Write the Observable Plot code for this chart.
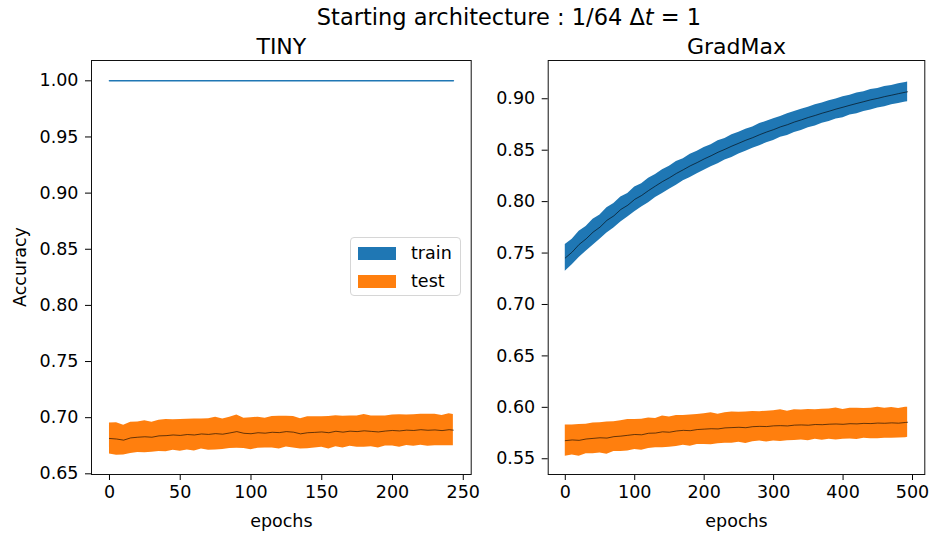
<!DOCTYPE html>
<html><head><meta charset="utf-8">
<script src="https://cdn.jsdelivr.net/npm/d3@7"></script>
<script src="https://cdn.jsdelivr.net/npm/@observablehq/plot@0.6"></script>
<style>
body{margin:0;background:#fff;}
#fig{position:relative;width:931px;height:534px;font-family:"DejaVu Sans",sans-serif;color:#000;overflow:hidden;}
#fig svg{position:absolute;top:0;}
.abs{position:absolute;white-space:nowrap;}
#suptitle{left:0;width:1018px;text-align:center;top:4px;font-size:22.5px;}
#ylab{left:20px;top:267px;font-size:17.5px;transform:translate(-50%,-50%) rotate(-90deg);}
#legend{left:350px;top:237px;width:111px;height:59px;border:1px solid #d6d6d6;border-radius:4px;background:rgba(255,255,255,0.8);box-sizing:border-box;}
.sw{position:absolute;left:7px;width:38px;height:13px;}
.lt{position:absolute;left:60px;font-size:17.5px;line-height:20px;}
</style></head><body>
<div id="fig"></div>
<script>
// ---- data ----
const panelTitles = ["TINY", "GradMax"];
const seriesNames = ["train", "test"];
const seriesColors = ["#1f77b4", "#ff7f0e"];

// TINY
const tinyTrainEpochs = [0, 243];
const tinyTrainMean = [1.0, 1.0];
const tinyTestEpochs = [0,5,10,15,20,25,30,35,40,45,50,55,60,65,70,75,80,85,90,95,100,105,110,115,120,125,130,135,140,145,150,155,160,165,170,175,180,185,190,195,200,205,210,215,220,225,230,235,240,243];
const tinyTestMean = [0.6815,0.6810,0.6800,0.6820,0.6826,0.6830,0.6826,0.6838,0.6840,0.6846,0.6842,0.6850,0.6846,0.6855,0.6851,0.6858,0.6853,0.6864,0.6876,0.6861,0.6857,0.6866,0.6862,0.6870,0.6867,0.6876,0.6871,0.6856,0.6866,0.6869,0.6873,0.6866,0.6879,0.6871,0.6880,0.6876,0.6883,0.6878,0.6873,0.6881,0.6886,0.6882,0.6889,0.6886,0.6893,0.6888,0.6891,0.6885,0.6893,0.6889];
const tinyTestSpread = [0.0138,0.0145,0.0132,0.0140,0.0136,0.0142,0.0133,0.0139,0.0144,0.0135,0.0141,0.0137,0.0143,0.0134,0.0140,0.0145,0.0136,0.0139,0.0148,0.0135,0.0142,0.0138,0.0133,0.0141,0.0146,0.0137,0.0140,0.0134,0.0143,0.0139,0.0136,0.0144,0.0138,0.0141,0.0135,0.0140,0.0146,0.0137,0.0142,0.0134,0.0139,0.0145,0.0136,0.0141,0.0138,0.0143,0.0140,0.0135,0.0142,0.0139];

// GradMax
const gmEpochs = [0,10,20,30,40,50,60,70,80,90,100,110,120,130,140,150,160,170,180,190,200,210,220,230,240,250,260,270,280,290,300,310,320,330,340,350,360,370,380,390,400,410,420,430,440,450,460,470,480,490,493];
const gmTrainMean = [0.7452,0.7510,0.7584,0.7638,0.7703,0.7752,0.7818,0.7862,0.7924,0.7965,0.8022,0.8060,0.8108,0.8152,0.8195,0.8232,0.8274,0.8310,0.8348,0.8380,0.8415,0.8446,0.8480,0.8509,0.8540,0.8568,0.8597,0.8622,0.8651,0.8677,0.8700,0.8727,0.8748,0.8774,0.8795,0.8818,0.8838,0.8860,0.8879,0.8900,0.8918,0.8937,0.8955,0.8972,0.8990,0.9004,0.9021,0.9035,0.9050,0.9064,0.9068];
const gmTrainSpread = [0.0130,0.0124,0.0127,0.0120,0.0126,0.0118,0.0123,0.0119,0.0122,0.0114,0.0120,0.0113,0.0118,0.0112,0.0115,0.0111,0.0115,0.0108,0.0113,0.0109,0.0111,0.0106,0.0112,0.0105,0.0110,0.0106,0.0107,0.0103,0.0108,0.0104,0.0105,0.0101,0.0106,0.0102,0.0103,0.0100,0.0104,0.0099,0.0101,0.0097,0.0102,0.0096,0.0100,0.0097,0.0099,0.0095,0.0098,0.0094,0.0097,0.0095,0.0096];
const gmTestMean = [0.5676,0.5683,0.5679,0.5692,0.5698,0.5704,0.5701,0.5715,0.5720,0.5728,0.5736,0.5733,0.5748,0.5750,0.5762,0.5758,0.5770,0.5776,0.5773,0.5784,0.5788,0.5792,0.5790,0.5800,0.5803,0.5806,0.5802,0.5812,0.5815,0.5813,0.5820,0.5822,0.5819,0.5827,0.5829,0.5826,0.5833,0.5831,0.5836,0.5838,0.5835,0.5841,0.5839,0.5844,0.5842,0.5847,0.5845,0.5849,0.5846,0.5853,0.5855];
const gmTestSpread = [0.0152,0.0146,0.0155,0.0143,0.0150,0.0147,0.0156,0.0144,0.0149,0.0153,0.0145,0.0151,0.0148,0.0142,0.0154,0.0147,0.0150,0.0144,0.0152,0.0146,0.0149,0.0155,0.0143,0.0148,0.0151,0.0145,0.0153,0.0147,0.0142,0.0150,0.0148,0.0154,0.0144,0.0149,0.0146,0.0152,0.0143,0.0150,0.0147,0.0155,0.0145,0.0149,0.0151,0.0144,0.0148,0.0153,0.0146,0.0150,0.0143,0.0149,0.0147];

const tinyXTicks = [0,50,100,150,200,250];
const tinyYTicks = [0.65,0.70,0.75,0.80,0.85,0.90,0.95,1.00];
const gmXTicks = [0,100,200,300,400,500];
const gmYTicks = [0.55,0.60,0.65,0.70,0.75,0.80,0.85,0.90];

// ---- build ----
const rows = (ep, m, s) => ep.map((e, i) => ({epoch: e, mean: m[i], lo: m[i] - (s ? s[i] : 0), hi: m[i] + (s ? s[i] : 0)}));
const fig = document.getElementById("fig");
const FS = "17.5px";

function panel(o) {
  const marks = [];
  for (const b of o.bands) marks.push(Plot.areaY(b.data, {x: "epoch", y1: "lo", y2: "hi", fill: b.color, curve: "linear"}));
  for (const b of o.bands) marks.push(Plot.line(b.data, {x: "epoch", y: "mean", stroke: "black", strokeWidth: 0.6}));
  for (const l of o.lines) marks.push(Plot.line(l.data, {x: "epoch", y: "mean", stroke: l.color, strokeWidth: 1.6}));
  marks.push(Plot.frame({stroke: "#111", strokeWidth: 1}));
  marks.push(Plot.text([o.title], {frameAnchor: "top", lineAnchor: "bottom", dy: -7, fontSize: 22, text: d => d}));
  marks.push(Plot.text(["epochs"], {frameAnchor: "bottom", lineAnchor: "bottom", dy: 52, fontSize: 17.5, text: d => d}));
  const svg = Plot.plot({
    width: o.width, height: 534,
    marginLeft: o.ml, marginRight: o.mr, marginTop: 60, marginBottom: 60,
    x: {domain: o.xDomain, ticks: o.xTicks, tickSize: 6, tickPadding: 5, tickFormat: d => String(d), label: null},
    y: {domain: o.yDomain, ticks: o.yTicks, tickSize: 6, tickPadding: 7, tickFormat: d3.format(".2f"), label: null},
    style: {fontFamily: "DejaVu Sans", fontSize: FS, color: "#000", background: "transparent", overflow: "visible"},
    marks
  });
  svg.style.left = o.left + "px";
  fig.appendChild(svg);
}

panel({
  left: 0, width: 480, ml: 91, mr: 9.3,
  xDomain: [-12.7, 255.6], yDomain: [0.6494, 1.0181],
  xTicks: tinyXTicks, yTicks: tinyYTicks, title: panelTitles[0],
  bands: [{data: rows(tinyTestEpochs, tinyTestMean, tinyTestSpread), color: seriesColors[1]}],
  lines: [{data: rows(tinyTrainEpochs, tinyTrainMean, null), color: seriesColors[0]}]
});
panel({
  left: 480, width: 451, ml: 67.7, mr: 6.7,
  xDomain: [-24.6, 517.7], yDomain: [0.5347, 0.9372],
  xTicks: gmXTicks, yTicks: gmYTicks, title: panelTitles[1],
  bands: [
    {data: rows(gmEpochs, gmTrainMean, gmTrainSpread), color: seriesColors[0]},
    {data: rows(gmEpochs, gmTestMean, gmTestSpread), color: seriesColors[1]}
  ],
  lines: []
});

const sup = document.createElement("div");
sup.className = "abs"; sup.id = "suptitle";
sup.innerHTML = "Starting architecture : 1/64 Δ<i>t</i> = 1";
fig.appendChild(sup);

const yl = document.createElement("div");
yl.className = "abs"; yl.id = "ylab"; yl.textContent = "Accuracy";
fig.appendChild(yl);

const leg = document.createElement("div");
leg.className = "abs"; leg.id = "legend";
seriesNames.forEach((n, i) => {
  const sw = document.createElement("div");
  sw.className = "sw"; sw.style.top = (9 + i * 27.5) + "px"; sw.style.background = seriesColors[i];
  const t = document.createElement("div");
  t.className = "lt"; t.style.top = (5 + i * 27.5) + "px"; t.textContent = n;
  leg.appendChild(sw); leg.appendChild(t);
});
fig.appendChild(leg);
</script>
</body></html>
